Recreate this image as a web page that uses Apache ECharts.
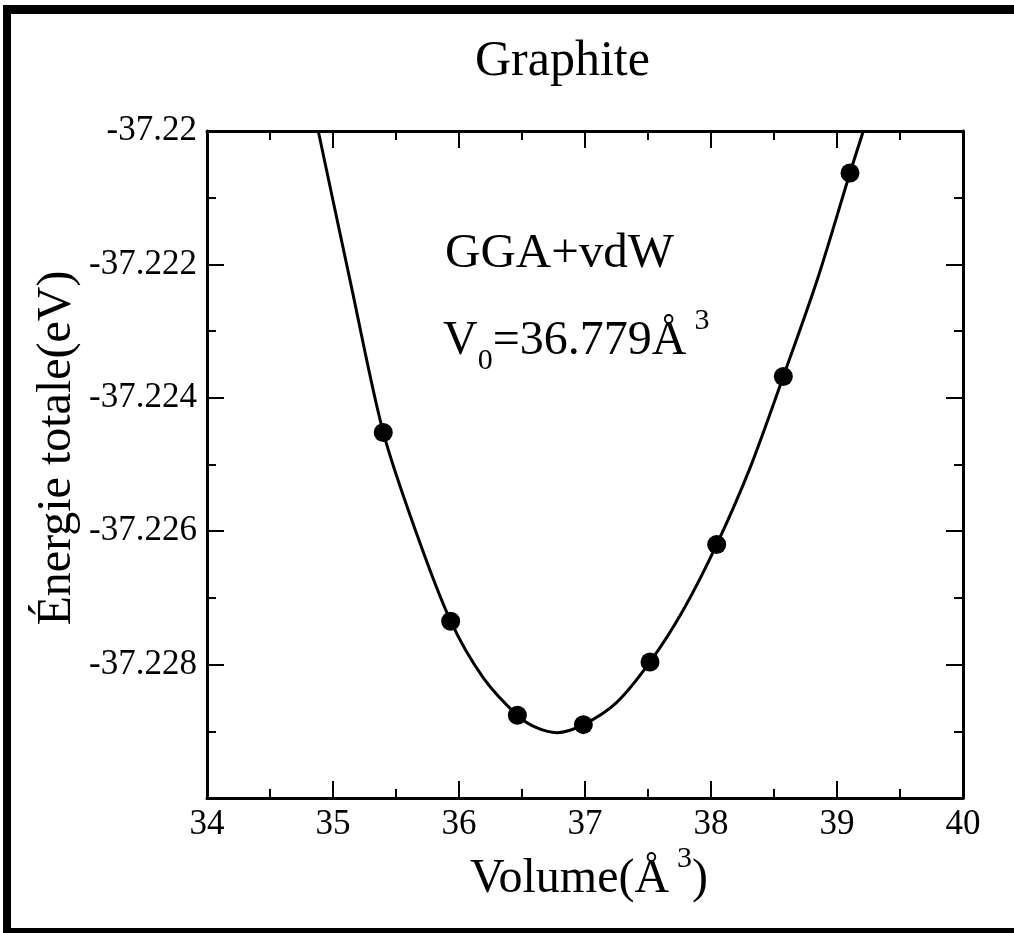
<!DOCTYPE html>
<html>
<head>
<meta charset="utf-8">
<script src="https://cdn.jsdelivr.net/npm/echarts@6/dist/echarts.min.js"></script>
<style>
html,body{margin:0;padding:0;background:#fff;}
#chart{width:1014px;height:933px;}
</style>
</head>
<body>
<div id="chart"></div>
<script>
// Measured data points (Volume Å^3, Total energy eV)
const pointV = [35.399, 35.934, 36.463, 36.987, 37.516, 38.045, 38.574, 39.103];
const pointE = [-37.22452, -37.22735, -37.22876, -37.22890, -37.22796, -37.22620, -37.22368, -37.22063];

// Fitted E(V) curve (enters/leaves the frame at the top)
const curveV = [34.883, 35.140, 35.399, 35.664, 35.934, 36.193, 36.463, 36.620, 36.779, 36.987, 37.250, 37.516, 37.780, 38.045, 38.310, 38.574, 38.840, 39.103, 39.209];
const curveE = [-37.22000, -37.22228, -37.22452, -37.22604, -37.22735, -37.22820, -37.22876, -37.22895, -37.22902, -37.22890, -37.22857, -37.22796, -37.22718, -37.22620, -37.22505, -37.22368, -37.22225, -37.22063, -37.22000];

const xTicks = [34, 35, 36, 37, 38, 39, 40];
const yTicks = [-37.23, -37.228, -37.226, -37.224, -37.222, -37.22];

const FONT = '"Liberation Serif", "Times New Roman", serif';

const chart = echarts.init(document.getElementById('chart'), null, {renderer: 'canvas'});

function axisBase(pos, showLabel, isY) {
  return {
    type: 'value',
    position: pos,
    min: isY ? yTicks[0] : xTicks[0],
    max: isY ? yTicks[yTicks.length - 1] : xTicks[xTicks.length - 1],
    interval: isY ? 0.002 : 1,
    axisLine: {show: true, onZero: false, lineStyle: {color: '#000', width: 3}},
    axisTick: {show: true, inside: true, length: 17, lineStyle: {color: '#000', width: 2}},
    minorTick: {show: true, splitNumber: 2, length: 9, lineStyle: {color: '#000', width: 2}},
    splitLine: {show: false},
    minorSplitLine: {show: false},
    axisLabel: {
      show: showLabel,
      color: '#000',
      fontSize: 35,
      fontFamily: FONT,
      margin: isY ? 10 : 9,
      showMinLabel: !isY,
      formatter: function (v) { return String(Math.round(v * 1000) / 1000); }
    }
  };
}

const option = {
  backgroundColor: '#fff',
  animation: false,
  grid: {left: 207, right: 51, top: 131, bottom: 135, containLabel: false},
  xAxis: [axisBase('bottom', true, false), axisBase('top', false, false)],
  yAxis: [axisBase('left', true, true), axisBase('right', false, true)],
  graphic: [
    {type: 'rect', shape: {x: 3, y: 5, width: 8, height: 928}, style: {fill: '#000'}},
    {type: 'rect', shape: {x: 3, y: 5, width: 1011, height: 9}, style: {fill: '#000'}},
    {type: 'rect', shape: {x: 3, y: 928, width: 1011, height: 5}, style: {fill: '#000'}},
    {type: 'text', x: 475, y: 62, style: {text: 'Graphite', font: '50px ' + FONT, fill: '#000', verticalAlign: 'middle'}},
    {type: 'text', x: 445, y: 254, style: {text: 'GGA+vdW', font: '49px ' + FONT, fill: '#000', verticalAlign: 'middle'}},
    {type: 'text', x: 443, y: 341, style: {
      text: 'V{sub|0}=36.779Å{sup|3}', fontSize: 48, fontFamily: FONT, fill: '#000', lineHeight: 70, verticalAlign: 'middle',
      rich: {
        sub: {fontSize: 30, fontFamily: FONT, verticalAlign: 'bottom', lineHeight: 30},
        sup: {fontSize: 30, fontFamily: FONT, verticalAlign: 'top', lineHeight: 30, padding: [0, 0, 0, 8]}
      }
    }},
    {type: 'text', x: 470, y: 879, style: {
      text: 'Volume(Å{sup|3})', fontSize: 48, fontFamily: FONT, fill: '#000', lineHeight: 70, verticalAlign: 'middle',
      rich: {
        sup: {fontSize: 30, fontFamily: FONT, verticalAlign: 'top', lineHeight: 30, padding: [0, 0, 0, 8]}
      }
    }},
    {type: 'text', x: 57, y: 448, rotation: Math.PI / 2, style: {
      text: 'Énergie totale(eV)', fontSize: 48, fontFamily: FONT, fill: '#000', align: 'center', verticalAlign: 'middle'
    }}
  ],
  series: [
    {
      type: 'line',
      xAxisIndex: 0, yAxisIndex: 0,
      data: curveV.map((v, i) => [v, curveE[i]]),
      showSymbol: false,
      symbol: 'none',
      smooth: 0.3,
      lineStyle: {color: '#000', width: 3},
      clip: true,
      z: 2
    },
    {
      type: 'scatter',
      xAxisIndex: 0, yAxisIndex: 0,
      data: pointV.map((v, i) => [v, pointE[i]]),
      symbol: 'circle',
      symbolSize: 19,
      itemStyle: {color: '#000', opacity: 1},
      z: 3
    }
  ]
};
chart.setOption(option);
</script>
</body>
</html>
